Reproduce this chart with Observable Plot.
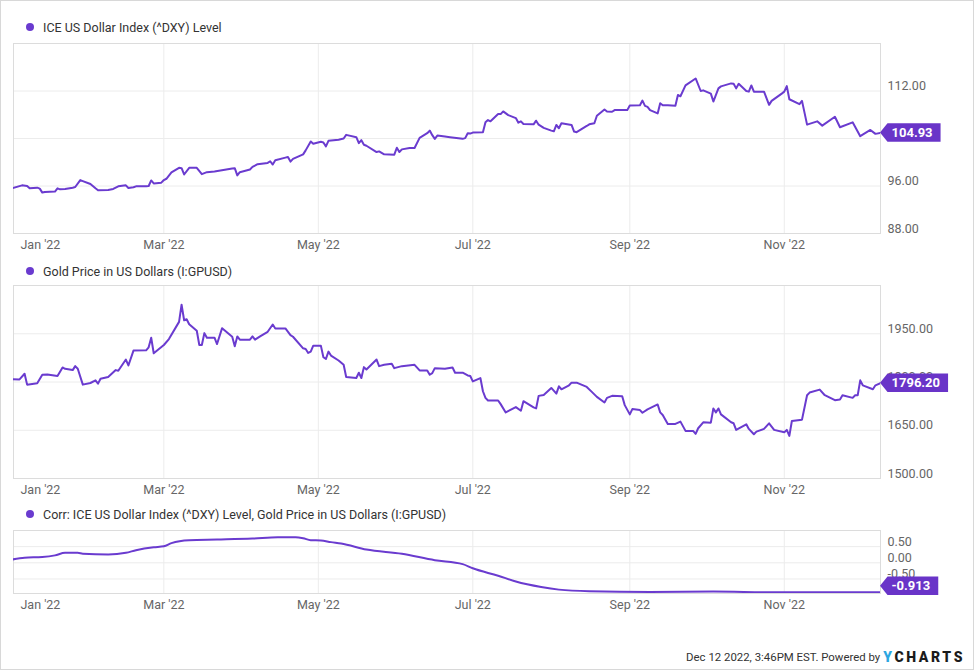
<!DOCTYPE html>
<html>
<head>
<meta charset="utf-8">
<script src="https://cdn.jsdelivr.net/npm/d3@7"></script>
<script src="https://cdn.jsdelivr.net/npm/@observablehq/plot@0.6"></script>
<style>
html,body{margin:0;padding:0;background:#fff;}
body{width:974px;height:670px;position:relative;overflow:hidden;font-family:Roboto, sans-serif;}
#frame{position:absolute;left:0;top:0;width:974px;height:670px;border:1px solid #d8d8d8;box-sizing:border-box;}
.legend{position:absolute;left:26px;font-size:12.5px;color:#333;display:flex;align-items:center;height:16px;white-space:nowrap;}
.legend .dot{width:8px;height:8px;border-radius:50%;background:#6a3bcf;margin-right:9px;flex:none;}
.panel{position:absolute;left:0;}
#footer{position:absolute;right:9px;top:648px;height:18px;display:flex;align-items:center;font-size:11.4px;color:#333;white-space:nowrap;}
#footer .yc{font-weight:900;font-size:14px;letter-spacing:2.6px;color:#1b1b1b;margin-left:3px;}
#footer .yc .y{color:#2ba6e1;}
</style>
</head>
<body>
<div id="frame"></div>
<div class="legend" style="top:19px"><span class="dot"></span>ICE US Dollar Index (^DXY) Level</div>
<div class="panel" id="p1" style="top:35px"></div>
<div class="legend" style="top:263px"><span class="dot"></span>Gold Price in US Dollars (I:GPUSD)</div>
<div class="panel" id="p2" style="top:278px"></div>
<div class="legend" style="top:506px"><span class="dot"></span>Corr: ICE US Dollar Index (^DXY) Level, Gold Price in US Dollars (I:GPUSD)</div>
<div class="panel" id="p3" style="top:522px"></div>
<div id="footer"><span>Dec 12 2022, 3:46PM EST. Powered by</span><span class="yc"><span class="y">Y</span>CHARTS</span></div>
<script>
// ---------- data ----------
const dxyDates = ["2021-12-31","2022-01-04","2022-01-06","2022-01-07","2022-01-10","2022-01-11","2022-01-12","2022-01-13","2022-01-17","2022-01-18","2022-01-19","2022-01-21","2022-01-24","2022-01-25","2022-01-27","2022-01-28","2022-01-31","2022-02-02","2022-02-03","2022-02-07","2022-02-09","2022-02-11","2022-02-14","2022-02-15","2022-02-17","2022-02-18","2022-02-22","2022-02-23","2022-02-24","2022-02-25","2022-02-28","2022-03-01","2022-03-02","2022-03-04","2022-03-07","2022-03-08","2022-03-09","2022-03-11","2022-03-14","2022-03-16","2022-03-18","2022-03-21","2022-03-28","2022-03-29","2022-03-30","2022-03-31","2022-04-04","2022-04-05","2022-04-07","2022-04-11","2022-04-12","2022-04-13","2022-04-14","2022-04-18","2022-04-19","2022-04-20","2022-04-21","2022-04-25","2022-04-26","2022-04-28","2022-04-29","2022-05-02","2022-05-03","2022-05-04","2022-05-05","2022-05-09","2022-05-11","2022-05-12","2022-05-16","2022-05-17","2022-05-18","2022-05-19","2022-05-20","2022-05-24","2022-05-25","2022-05-27","2022-05-31","2022-06-01","2022-06-02","2022-06-03","2022-06-06","2022-06-08","2022-06-10","2022-06-13","2022-06-14","2022-06-15","2022-06-16","2022-06-17","2022-06-20","2022-06-22","2022-06-27","2022-06-28","2022-06-29","2022-06-30","2022-07-01","2022-07-05","2022-07-06","2022-07-07","2022-07-08","2022-07-11","2022-07-12","2022-07-13","2022-07-15","2022-07-18","2022-07-19","2022-07-20","2022-07-21","2022-07-25","2022-07-26","2022-07-27","2022-07-29","2022-08-01","2022-08-02","2022-08-03","2022-08-04","2022-08-05","2022-08-09","2022-08-10","2022-08-11","2022-08-15","2022-08-16","2022-08-18","2022-08-19","2022-08-22","2022-08-23","2022-08-25","2022-08-26","2022-08-31","2022-09-01","2022-09-05","2022-09-06","2022-09-07","2022-09-08","2022-09-09","2022-09-12","2022-09-13","2022-09-14","2022-09-16","2022-09-19","2022-09-20","2022-09-21","2022-09-23","2022-09-27","2022-09-29","2022-09-30","2022-10-03","2022-10-04","2022-10-06","2022-10-07","2022-10-11","2022-10-12","2022-10-13","2022-10-14","2022-10-17","2022-10-18","2022-10-19","2022-10-20","2022-10-24","2022-10-26","2022-10-27","2022-10-31","2022-11-01","2022-11-02","2022-11-03","2022-11-07","2022-11-08","2022-11-10","2022-11-14","2022-11-16","2022-11-21","2022-11-23","2022-11-28","2022-12-01","2022-12-05","2022-12-07","2022-12-09"];
const dxyValues = [95.61,96.11,96.00,95.61,95.72,95.56,94.89,95.00,95.06,95.61,95.44,95.50,95.72,95.83,97.00,96.83,96.33,95.61,95.28,95.33,95.50,95.94,96.11,95.67,95.78,95.94,95.94,96.00,96.94,96.44,96.56,97.00,97.22,98.28,99.06,99.00,97.94,99.06,99.06,98.00,98.33,98.44,98.94,99.00,97.78,98.33,98.78,99.22,99.67,99.89,100.17,99.61,100.33,100.78,100.89,100.11,100.56,101.33,102.00,103.50,103.11,103.44,103.33,102.67,103.61,103.78,104.00,104.61,104.22,103.22,103.72,102.94,102.78,101.72,101.83,101.33,101.28,102.44,101.72,102.17,102.39,102.39,104.11,104.89,105.33,104.56,103.94,104.50,104.33,104.22,103.94,104.06,104.89,104.83,105.00,105.06,106.72,107.11,106.89,108.11,108.11,108.56,107.94,107.44,106.67,106.89,106.44,106.39,107.00,106.33,105.78,105.33,105.22,106.28,105.72,106.56,106.28,105.17,105.06,106.11,106.39,106.56,107.83,108.89,108.56,108.50,108.78,108.78,109.56,109.61,110.39,109.50,109.33,108.78,108.22,109.94,109.61,109.61,109.50,111.33,111.11,112.94,114.11,112.00,112.11,111.56,110.22,112.44,112.78,113.28,113.22,112.44,113.22,112.00,111.89,112.94,111.89,111.89,109.67,110.33,111.56,111.89,112.83,110.61,109.78,110.33,106.33,106.89,106.17,107.67,105.89,106.72,104.39,105.44,104.78,104.93];

const goldDates = ["2021-12-31","2022-01-03","2022-01-05","2022-01-06","2022-01-10","2022-01-12","2022-01-14","2022-01-18","2022-01-20","2022-01-21","2022-01-24","2022-01-25","2022-01-26","2022-01-28","2022-01-31","2022-02-02","2022-02-03","2022-02-04","2022-02-07","2022-02-10","2022-02-11","2022-02-14","2022-02-15","2022-02-17","2022-02-22","2022-02-23","2022-02-24","2022-02-25","2022-03-01","2022-03-03","2022-03-07","2022-03-08","2022-03-09","2022-03-10","2022-03-11","2022-03-14","2022-03-15","2022-03-16","2022-03-17","2022-03-18","2022-03-21","2022-03-22","2022-03-24","2022-03-28","2022-03-29","2022-03-30","2022-03-31","2022-04-04","2022-04-05","2022-04-06","2022-04-08","2022-04-11","2022-04-13","2022-04-14","2022-04-18","2022-04-20","2022-04-21","2022-04-25","2022-04-26","2022-04-27","2022-04-28","2022-04-29","2022-05-02","2022-05-03","2022-05-04","2022-05-05","2022-05-06","2022-05-09","2022-05-11","2022-05-12","2022-05-16","2022-05-17","2022-05-18","2022-05-19","2022-05-20","2022-05-24","2022-05-25","2022-05-27","2022-05-30","2022-05-31","2022-06-03","2022-06-08","2022-06-10","2022-06-13","2022-06-14","2022-06-15","2022-06-16","2022-06-20","2022-06-23","2022-06-24","2022-06-27","2022-06-29","2022-06-30","2022-07-01","2022-07-04","2022-07-05","2022-07-06","2022-07-07","2022-07-11","2022-07-12","2022-07-14","2022-07-18","2022-07-20","2022-07-21","2022-07-25","2022-07-26","2022-07-27","2022-07-29","2022-08-01","2022-08-03","2022-08-04","2022-08-05","2022-08-08","2022-08-09","2022-08-11","2022-08-15","2022-08-17","2022-08-19","2022-08-22","2022-08-23","2022-08-25","2022-08-29","2022-08-30","2022-09-01","2022-09-02","2022-09-05","2022-09-06","2022-09-08","2022-09-12","2022-09-13","2022-09-14","2022-09-16","2022-09-19","2022-09-21","2022-09-23","2022-09-26","2022-09-27","2022-09-28","2022-09-30","2022-10-03","2022-10-04","2022-10-05","2022-10-06","2022-10-07","2022-10-11","2022-10-12","2022-10-13","2022-10-17","2022-10-18","2022-10-20","2022-10-21","2022-10-24","2022-10-26","2022-10-28","2022-11-01","2022-11-02","2022-11-03","2022-11-04","2022-11-08","2022-11-10","2022-11-11","2022-11-15","2022-11-17","2022-11-21","2022-11-23","2022-11-24","2022-11-28","2022-11-29","2022-11-30","2022-12-01","2022-12-02","2022-12-06","2022-12-07","2022-12-09"];
const goldValues = [1808.2,1808.0,1825.7,1791.8,1795.9,1822.6,1823.6,1818.5,1845.2,1841.1,1837.0,1849.3,1841.1,1791.8,1796.9,1805.1,1794.9,1810.3,1815.4,1837.0,1834.9,1869.8,1851.4,1897.6,1898.6,1907.8,1937.6,1889.4,1915.0,1933.5,1986.9,2040.3,1992.0,1995.1,1979.7,1959.2,1915.0,1915.0,1952.0,1937.6,1937.6,1918.1,1967.4,1940.7,1910.9,1941.7,1931.5,1931.5,1941.7,1931.5,1941.7,1956.1,1978.7,1966.4,1966.4,1945.8,1940.7,1904.8,1902.7,1890.4,1894.5,1913.0,1913.0,1877.0,1871.9,1894.5,1882.2,1866.8,1853.4,1815.4,1812.3,1828.8,1812.3,1846.2,1839.0,1869.8,1849.3,1853.4,1856.5,1843.1,1849.3,1853.4,1836.0,1836.0,1822.6,1827.7,1843.1,1841.1,1845.2,1828.8,1828.8,1820.5,1818.5,1802.0,1812.3,1771.2,1750.7,1742.5,1742.5,1731.2,1705.5,1721.9,1710.6,1740.4,1720.9,1717.8,1756.9,1759.9,1781.5,1764.0,1786.6,1777.4,1789.7,1798.0,1798.0,1784.6,1769.2,1753.8,1736.3,1750.7,1756.9,1755.8,1728.1,1699.4,1715.8,1712.7,1704.5,1714.8,1730.2,1705.5,1697.3,1669.6,1669.6,1676.8,1648.0,1648.0,1638.8,1656.2,1674.7,1673.7,1717.8,1705.5,1717.8,1699.4,1674.7,1671.6,1651.1,1668.5,1654.2,1637.7,1645.9,1654.2,1671.6,1651.1,1643.9,1651.1,1632.6,1678.8,1682.9,1758.9,1767.1,1776.4,1758.9,1743.5,1745.6,1758.9,1750.7,1758.9,1758.9,1805.1,1789.7,1777.4,1789.7,1796.2];

const corrDates = ["2021-12-31","2022-01-05","2022-01-12","2022-01-17","2022-01-21","2022-01-26","2022-01-28","2022-02-07","2022-02-14","2022-02-18","2022-02-25","2022-03-01","2022-03-04","2022-03-11","2022-03-22","2022-04-05","2022-04-15","2022-04-22","2022-04-25","2022-04-28","2022-05-02","2022-05-06","2022-05-10","2022-05-20","2022-06-03","2022-06-16","2022-06-27","2022-07-01","2022-07-11","2022-07-18","2022-07-28","2022-08-04","2022-08-16","2022-09-09","2022-10-04","2022-10-28","2022-11-22","2022-12-09"];
const corrValues = [0.10,0.16,0.18,0.23,0.31,0.31,0.28,0.26,0.31,0.39,0.48,0.51,0.61,0.70,0.72,0.75,0.79,0.79,0.76,0.70,0.69,0.64,0.60,0.41,0.28,0.08,-0.04,-0.17,-0.40,-0.58,-0.75,-0.83,-0.88,-0.90,-0.89,-0.91,-0.91,-0.913];

const monthTickDates = ["2022-01-01","2022-03-01","2022-05-01","2022-07-01","2022-09-01","2022-11-01"];
const dxyGrid = [96, 104, 112];
const dxyLabels = [88, 96, 112];
const goldGrid = [1650, 1800, 1950];
const goldLabels = [1500, 1650, 1800, 1950];
const corrGrid = [-0.5, 0, 0.5, 1];
const corrLabels = [-0.5, 0, 0.5];

// ---------- drawing ----------
const purple = "#6a3bcf";
const tagColor = "#6934c8";
const monthTicks = monthTickDates.map(d => new Date(d));
const xDomain = [new Date("2021-12-31T15:00:00Z"), new Date("2022-12-09T00:00:00Z")];
const fmt = d3.utcFormat("%b '%y");
const hyphen = f => d => f(d).replace("\u2212", "-");

function panel({id, height, mt, mb, dates, values, yDomain, ticks, labelTicks, labelFormat, tagFormat, tagDy, curve}) {
  const data = dates.map((d, i) => ({date: new Date(d), value: values[i]}));
  const plot = Plot.plot({
    width: 974, height, marginLeft: 13, marginRight: 94, marginTop: mt, marginBottom: mb,
    style: {fontFamily: "Roboto, sans-serif", fontSize: "12.5px", color: "#666", background: "transparent", overflow: "visible"},
    x: {type: "utc", domain: xDomain},
    y: {domain: yDomain},
    marks: [
      Plot.gridX(monthTicks.slice(1), {stroke: "#ececec", strokeOpacity: 1}),
      Plot.gridY(ticks, {stroke: "#ececec", strokeOpacity: 1}),
      Plot.frame({stroke: "#dcdcdc"}),
      Plot.lineY(data, {x: "date", y: "value", stroke: purple, strokeWidth: 2, curve, clip: true}),
      Plot.axisY(labelTicks, {anchor: "right", tickSize: 0, tickPadding: 7, dy: -5, tickFormat: labelFormat, fill: "#666", label: null}),
      Plot.axisX(monthTicks.slice(1), {anchor: "bottom", tickSize: 0, tickPadding: 7, tickFormat: fmt, fill: "#666", label: null}),
      Plot.axisX(monthTicks.slice(0, 1), {anchor: "bottom", tickSize: 0, tickPadding: 7, tickFormat: fmt, textAnchor: "start", dx: 6, fill: "#666", label: null})
    ]
  });
  document.getElementById(id).appendChild(plot);
  const sx = plot.scale("x"), sy = plot.scale("y");
  const last = data[data.length - 1];
  const x0 = sx.apply(last.date), y0 = sy.apply(last.value) + tagDy;
  const g = d3.select(plot).append("g").attr("text-anchor", "start");
  const path = g.append("path").attr("fill", tagColor);
  const t = g.append("text")
    .attr("x", x0 + 11.5).attr("y", y0).attr("dy", "0.35em")
    .attr("text-anchor", "start")
    .attr("fill", "#fff").attr("font-weight", "bold").attr("font-size", 13)
    .attr("font-family", "Roboto, sans-serif")
    .text(tagFormat(last.value));
  const w = t.node().getComputedTextLength();
  const h = 9.2;
  path.attr("d", `M${x0},${y0}L${x0 + 7.5},${y0 - h}H${x0 + 11.5 + w + 8}V${y0 + h}H${x0 + 7.5}Z`);
}

panel({id: "p1", height: 225, mt: 8, mb: 27, dates: dxyDates, values: dxyValues,
  yDomain: [88, 120], ticks: dxyGrid, labelTicks: dxyLabels,
  labelFormat: d3.format(".2f"), tagFormat: d3.format(".2f"), tagDy: 0, curve: "linear"});
panel({id: "p2", height: 225, mt: 7, mb: 25, dates: goldDates, values: goldValues,
  yDomain: [1500, 2100], ticks: goldGrid, labelTicks: goldLabels,
  labelFormat: d3.format(".2f"), tagFormat: d3.format(".2f"), tagDy: 0, curve: "linear"});
panel({id: "p3", height: 95, mt: 8, mb: 24, dates: corrDates, values: corrValues,
  yDomain: [-0.95, 1], ticks: corrGrid, labelTicks: corrLabels,
  labelFormat: hyphen(d3.format(".2f")), tagFormat: hyphen(d3.format(".3f")), tagDy: -6, curve: "monotone-x"});
</script>
</body>
</html>
